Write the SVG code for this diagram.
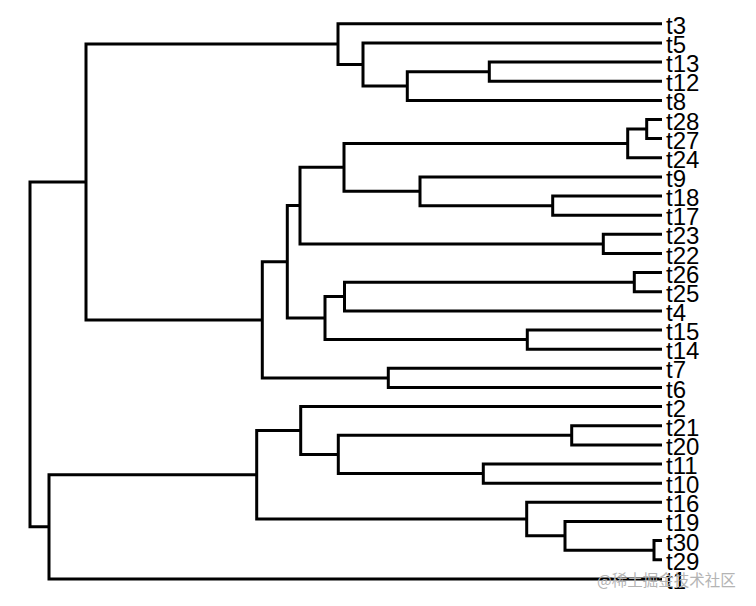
<svg xmlns="http://www.w3.org/2000/svg" width="756" height="606" viewBox="0 0 756 606">
<style>
.e{fill:none;stroke:#000;stroke-width:3;stroke-linejoin:miter;stroke-linecap:butt}
.t{font-family:"Liberation Sans",Arial,sans-serif;font-size:24px;fill:#000}
.wm{font-family:"Noto Sans CJK SC","Liberation Sans",sans-serif;font-size:15.5px;fill:#b4b4b4}
</style>
<rect width="756" height="606" fill="#fff"/>
<g id="connectors">
<path class="e" d="M662,23.8 H338 V64.45 H363"/>
<path class="e" d="M662,42.9 H363 V86 H407.3"/>
<path class="e" d="M489.3,71.65 H407.3 V100.4 H662"/>
<path class="e" d="M662,62.1 H489.3 V81.2 H662"/>
<path class="e" d="M338,44.1 H86 V319.9 H262.3"/>
<path class="e" d="M287.3,261.85 H262.3 V377.9 H388.3"/>
<path class="e" d="M662,368.3 H388.3 V387.5 H662"/>
<path class="e" d="M300,205.6 H287.3 V318.1 H325"/>
<path class="e" d="M344,167.35 H300 V243.9 H603.3"/>
<path class="e" d="M662,234.3 H603.3 V253.5 H662"/>
<path class="e" d="M627.7,143.4 H344 V191.3 H420"/>
<path class="e" d="M646.7,129.05 H627.7 V157.8 H662"/>
<path class="e" d="M662,119.5 H646.7 V138.6 H662"/>
<path class="e" d="M662,176.9 H420 V205.65 H552.7"/>
<path class="e" d="M662,196.1 H552.7 V215.2 H662"/>
<path class="e" d="M344.5,296.55 H325 V339.6 H527.3"/>
<path class="e" d="M634.3,282.2 H344.5 V310.9 H662"/>
<path class="e" d="M662,272.6 H634.3 V291.8 H662"/>
<path class="e" d="M662,330 H527.3 V349.2 H662"/>
<path class="e" d="M86,182 H30 V526.85 H49"/>
<path class="e" d="M256.7,474.8 H49 V578.9 H662"/>
<path class="e" d="M300.7,430.5 H256.7 V519.05 H526.7"/>
<path class="e" d="M662,406.6 H300.7 V454.45 H338.3"/>
<path class="e" d="M571.7,435.3 H338.3 V473.6 H483.3"/>
<path class="e" d="M662,425.7 H571.7 V444.9 H662"/>
<path class="e" d="M662,464 H483.3 V483.2 H662"/>
<path class="e" d="M662,502.3 H526.7 V535.8 H565"/>
<path class="e" d="M662,521.4 H565 V550.15 H654"/>
<path class="e" d="M662,540.6 H654 V559.7 H662"/>
</g>
<g id="t3"><text class="t" x="666" y="33.8">t3</text></g>
<g id="t5"><text class="t" x="666" y="52.9">t5</text></g>
<g id="t13"><text class="t" x="666" y="72.1">t13</text></g>
<g id="t12"><text class="t" x="666" y="91.2">t12</text></g>
<g id="t8"><text class="t" x="666" y="110.4">t8</text></g>
<g id="t28"><text class="t" x="666" y="129.5">t28</text></g>
<g id="t27"><text class="t" x="666" y="148.6">t27</text></g>
<g id="t24"><text class="t" x="666" y="167.8">t24</text></g>
<g id="t9"><text class="t" x="666" y="186.9">t9</text></g>
<g id="t18"><text class="t" x="666" y="206.1">t18</text></g>
<g id="t17"><text class="t" x="666" y="225.2">t17</text></g>
<g id="t23"><text class="t" x="666" y="244.3">t23</text></g>
<g id="t22"><text class="t" x="666" y="263.5">t22</text></g>
<g id="t26"><text class="t" x="666" y="282.6">t26</text></g>
<g id="t25"><text class="t" x="666" y="301.8">t25</text></g>
<g id="t4"><text class="t" x="666" y="320.9">t4</text></g>
<g id="t15"><text class="t" x="666" y="340">t15</text></g>
<g id="t14"><text class="t" x="666" y="359.2">t14</text></g>
<g id="t7"><text class="t" x="666" y="378.3">t7</text></g>
<g id="t6"><text class="t" x="666" y="397.5">t6</text></g>
<g id="t2"><text class="t" x="666" y="416.6">t2</text></g>
<g id="t21"><text class="t" x="666" y="435.7">t21</text></g>
<g id="t20"><text class="t" x="666" y="454.9">t20</text></g>
<g id="t11"><text class="t" x="666" y="474">t11</text></g>
<g id="t10"><text class="t" x="666" y="493.2">t10</text></g>
<g id="t16"><text class="t" x="666" y="512.3">t16</text></g>
<g id="t19"><text class="t" x="666" y="531.4">t19</text></g>
<g id="t30"><text class="t" x="666" y="550.6">t30</text></g>
<g id="t29"><text class="t" x="666" y="569.7">t29</text></g>
<g id="t1"><text class="t" x="666" y="588.9">t1</text></g>
<text class="wm" x="597" y="585.5">@稀土掘金技术社区</text>
</svg>
